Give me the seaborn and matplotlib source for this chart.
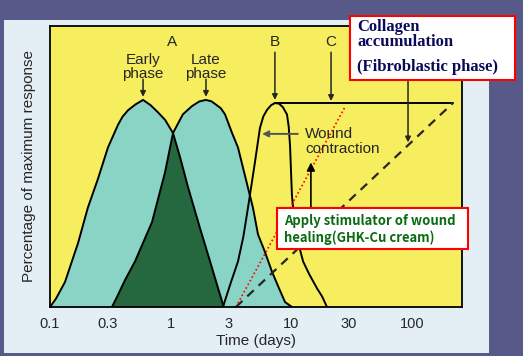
import numpy as np
import pandas as pd
import matplotlib.pyplot as plt
import seaborn as sns
from matplotlib.patches import Rectangle

# Curves: time in days, percentage of maximum response
early_days = [0.1, 0.112, 0.133, 0.171, 0.206, 0.25, 0.302, 0.366, 0.40, 0.443, 0.51,
              0.59, 0.68, 0.785, 0.9, 1.045, 1.2, 1.39, 1.75, 2.12, 2.47, 2.75]
early_pct = [0, 4, 12, 31, 48, 62, 77, 88, 92, 95, 97.8, 100, 97.5, 94, 90.3, 84, 72,
             58, 38, 22, 9, 0]

late_days = [0.326, 0.36, 0.418, 0.506, 0.70, 0.897, 1.045, 1.26, 1.50, 1.73, 1.96,
             2.18, 2.6, 2.82, 3.2, 3.61, 4.37, 4.8, 5.29, 6.0, 6.91, 7.9, 8.85, 10.1]
late_pct = [0, 5, 13, 22, 41, 65, 84, 93, 97, 99.3, 100, 99.3, 96, 93, 84.5, 77, 57.5,
            48, 35, 27, 17, 9, 2.4, 0]

contraction_days = [2.71, 3.1, 3.61, 4.0, 4.37, 4.99, 5.49, 5.85, 6.28, 6.8, 7.31, 7.9,
                    8.5, 9.19, 9.5, 9.74, 10.1, 10.7, 11.5, 12.5, 14.0, 16.3, 18.0, 19.7]
contraction_pct = [0, 10.6, 22, 34, 48, 70, 86.5, 92, 95.2, 97.5, 98.5, 98.2, 96.5, 93,
                   87, 78, 54, 38, 30, 22, 16, 9, 5, 0]

collagen_days = [7.31, 218]
collagen_pct = [98.5, 98.5]
fibro_days = [3.47, 218]
fibro_pct = [0, 98.5]
ghk_days = [3.47, 27.8]
ghk_pct = [0, 96.6]

tick_days = [0.1, 0.3, 1, 3, 10, 30, 100]
tick_labels = ['0.1', '0.3', '1', '3', '10', '30', '100']

# overlap of early and late phase: late rising edge + early falling edge
cross_e = early_days.index(1.045)
cross_l = late_days.index(1.045)
overlap_days = late_days[:cross_l + 1] + early_days[cross_e + 1:]
overlap_pct = late_pct[:cross_l + 1] + early_pct[cross_e + 1:]

sns.set_style('white')
plt.rcParams['font.family'] = ['Liberation Sans', 'DejaVu Sans']

YELLOW = '#f6ee5e'
TEAL = '#8ad4c6'
DARK = '#25673f'
INK = '#262626'

fig = plt.figure(figsize=(5.23, 3.56), dpi=100, facecolor='#575a88')
fig.add_artist(Rectangle((4 / 523, 3 / 356), 485 / 523, 333 / 356, transform=fig.transFigure,
                         facecolor='#e3eff4', edgecolor='none', zorder=-1))
ax = fig.add_axes([50 / 523, 49 / 356, 412 / 523, 281 / 356])
ax.set_facecolor(YELLOW)

ax.fill_between(early_days, early_pct, color=TEAL, lw=0)
ax.fill_between(late_days, late_pct, color=TEAL, lw=0)
ax.fill(overlap_days, overlap_pct, color=DARK, lw=0)

for xs, ys in [(early_days, early_pct), (late_days, late_pct),
               (contraction_days, contraction_pct), (collagen_days, collagen_pct)]:
    sns.lineplot(x=xs, y=ys, ax=ax, color='black', lw=1.4, sort=False, estimator=None)
sns.lineplot(x=fibro_days, y=fibro_pct, ax=ax, color=INK, lw=1.6, sort=False,
             estimator=None, linestyle=(0, (4, 3)))
sns.lineplot(x=ghk_days, y=ghk_pct, ax=ax, color='red', lw=1.2, sort=False,
             estimator=None, linestyle=(0, (1, 1.5)))

ax.set_xscale('log')
ax.set_xlim(0.1, 259)
ax.set_ylim(0, 135.7)
ax.set_xticks(tick_days)
ax.set_xticklabels(tick_labels)
ax.minorticks_off()
ax.set_yticks([])
ax.tick_params(axis='x', direction='in', length=3, width=1, pad=7, labelsize=10.5,
               colors=INK)
for s in ax.spines.values():
    s.set_color('black')
    s.set_linewidth(1.3)

ax.set_xlabel('Time (days)', fontsize=11, color=INK)
ax.xaxis.set_label_coords(0.5, -0.095)
ax.set_ylabel('Percentage of maximum response', fontsize=11, color=INK)
ax.yaxis.set_label_coords(-0.035, 0.5)

arrow = dict(arrowstyle='-|>', color=INK, lw=1.1, mutation_scale=8, shrinkA=0, shrinkB=0)
ax.annotate('', xy=(0.59, 101.5), xytext=(0.59, 110), arrowprops=arrow)
ax.annotate('', xy=(1.96, 101.5), xytext=(1.96, 110), arrowprops=arrow)
ax.annotate('', xy=(7.3, 100), xytext=(7.3, 123), arrowprops=arrow)
ax.annotate('', xy=(21.3, 99.5), xytext=(21.3, 123), arrowprops=arrow)
ax.annotate('', xy=(92.5, 79.5), xytext=(92.5, 109), arrowprops=arrow)
ax.annotate('', xy=(5.71, 83.6), xytext=(11.3, 83.6),
            arrowprops=dict(arrowstyle='-|>', color='#555555', lw=1.4, mutation_scale=9,
                            shrinkA=0, shrinkB=0))
ax.annotate('', xy=(14.5, 69.8), xytext=(14.5, 47.8),
            arrowprops=dict(arrowstyle='-|>', color='black', lw=1.2, mutation_scale=12,
                            shrinkA=0, shrinkB=0))

ax.text(1.03, 128, 'A', ha='center', va='center', fontsize=11, color=INK)
ax.text(7.3, 128, 'B', ha='center', va='center', fontsize=11, color=INK)
ax.text(21.3, 128, 'C', ha='center', va='center', fontsize=11, color=INK)
ax.text(0.59, 116, 'Early\nphase', ha='center', va='center', fontsize=11, color=INK,
        linespacing=1.05)
ax.text(1.96, 116, 'Late\nphase', ha='center', va='center', fontsize=11, color=INK,
        linespacing=1.05)
ax.text(13.0, 80, 'Wound\ncontraction', ha='left', va='center', fontsize=11, color=INK,
        linespacing=1.05)

# Collagen accumulation call-out
fig.add_artist(Rectangle((350 / 523, 1 - 80 / 356), 165 / 523, 64 / 356,
                         transform=fig.transFigure, facecolor='white', edgecolor='red',
                         lw=1.5, zorder=5))
navy = dict(color='#0a0a5a', fontsize=12, fontweight='bold',
            family=['Liberation Serif', 'DejaVu Serif'], ha='left', va='center', zorder=6)
fig.text(357 / 523, 1 - 27 / 356, 'Collagen', **navy)
fig.text(357 / 523, 1 - 42 / 356, 'accumulation', **navy)
fig.text(357 / 523, 1 - 67 / 356, '(Fibroblastic phase)', **navy)

# GHK-Cu call-out
fig.add_artist(Rectangle((277 / 523, 1 - 249 / 356), 191 / 523, 41 / 356,
                         transform=fig.transFigure, facecolor='white', edgecolor='red',
                         lw=1.5, zorder=5))
green = dict(color='#0b6b12', fontsize=9.4, fontweight='bold',
             family=['Noto Sans CJK KR', 'DejaVu Sans'], ha='left', va='center', zorder=6)
fig.text(284 / 523, 1 - 221 / 356, 'Apply stimulator of wound', **green)
fig.text(284 / 523, 1 - 238 / 356, 'healing(GHK-Cu cream)', **green)

fig.savefig('out.png', dpi=100, facecolor=fig.get_facecolor())
